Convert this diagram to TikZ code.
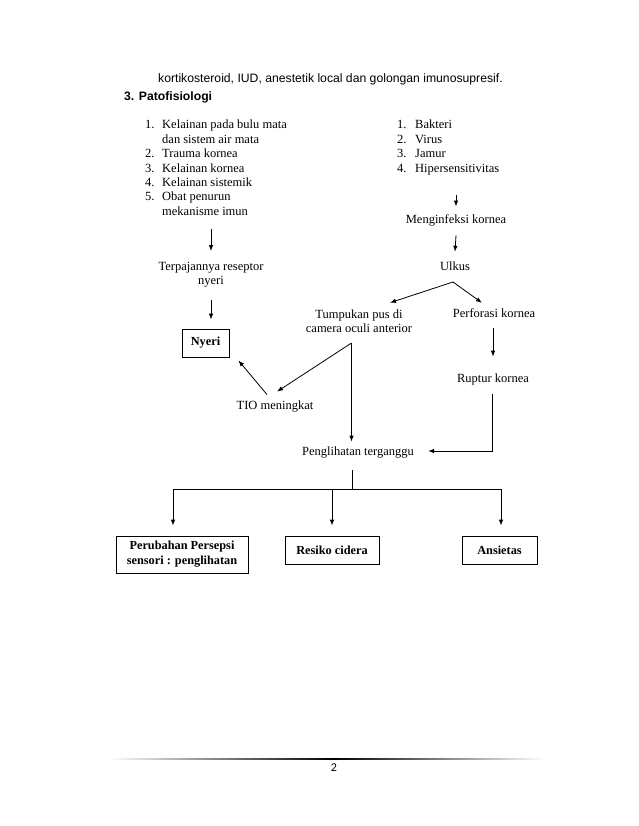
\documentclass[tikz,border=0pt]{standalone}
\usepackage{fontspec}
\setmainfont{Liberation Serif}
\newfontfamily\arialf{Liberation Sans}
\newfontfamily\calf{Carlito}
\usetikzlibrary{arrows.meta}
\begin{document}
\begin{tikzpicture}[x=1pt,y=-1pt,
  every node/.style={inner sep=0pt, font=\fontsize{12.5}{14.4}\selectfont},
  txt/.style={align=center},
  box/.style={draw, line width=0.8pt, align=center, font=\fontsize{12.3}{15}\selectfont\bfseries},
  arr/.style={line width=0.8pt, -{Latex[length=6pt,width=4.5pt]}},
  ln/.style={line width=0.8pt}]
\useasboundingbox[fill=white] (0,0) rectangle (638,826);
% heading text
\node[anchor=base west, font=\arialf\fontsize{12.2}{14}\selectfont] (h1) at (158,83)
  {kortikosteroid, IUD, anestetik local dan golongan imunosupresif.};
\node[anchor=base west, font=\arialf\fontsize{12.2}{14}\selectfont\bfseries] (h2) at (124,101)
  {3. Patofisiologi};
% lists
\node[anchor=base west] (listL) at (145,129) {\begin{tabular}[t]{@{}p{17pt}@{}l@{}}
1. & Kelainan pada bulu mata\\
   & dan sistem air mata\\
2. & Trauma kornea\\
3. & Kelainan kornea\\
4. & Kelainan sistemik\\
5. & Obat penurun\\
   & mekanisme imun
\end{tabular}};
\node[anchor=base west] (listR) at (397,129) {\begin{tabular}[t]{@{}p{18pt}@{}l@{}}
1. & Bakteri\\
2. & Virus\\
3. & Jamur\\
4. & Hipersensitivitas
\end{tabular}};
% text nodes
\node[txt] (infeksi) at (456,220) {Menginfeksi kornea};
\node[txt] (ulkus) at (455,266) {Ulkus};
\node[txt] (terpajan) at (211,275) {Terpajannya reseptor\\nyeri};
\node[txt] (tumpukan) at (359,321.5) {Tumpukan pus di\\camera oculi anterior};
\node[txt] (perforasi) at (494,313) {Perforasi kornea};
\node[box, minimum width=47pt, minimum height=28pt] (nyeri) at (205.5,343) {Nyeri};
\node[txt] (ruptur) at (493,379) {Ruptur kornea};
\node[txt] (tio) at (275,407) {TIO meningkat};
\node[txt] (lihat) at (358,453) {Penglihatan terganggu};
\node[box, minimum width=132pt, minimum height=37pt] (box1) at (182,554.5) {Perubahan Persepsi\\sensori : penglihatan};
\node[box, minimum width=94pt, minimum height=28pt] (box2) at (332,550) {Resiko cidera};
\node[box, minimum width=75pt, minimum height=28pt] (box3) at (499.5,550) {Ansietas};
\node[font=\calf\fontsize{12}{14}\selectfont] (pg) at (334,768) {2};
% footer rule
\shade[left color=white, right color=black] (108,758.6) rectangle (334,759.6);
\shade[left color=black, right color=white] (334,758.6) rectangle (545,759.6);
% connectors
\coordinate (tp) at (351.5,343);
\coordinate (us) at (453,282);
\coordinate (bus) at (352,489);
\draw[arr] ([yshift=-9pt]listL.south -| terpajan.north) -- ([yshift=11pt]terpajan.north);
\draw[arr] ([yshift=-18pt]listR.south -| infeksi.north) -- ([yshift=7.5pt]infeksi.north);
\draw[arr] ([yshift=-9.5pt]infeksi.south) -- ([yshift=9.7pt]ulkus.north);
\draw[ln] ([yshift=-11.7pt]ulkus.south -| us) -- (us);
\draw[arr] (us) -- ([xshift=31pt,yshift=7pt]tumpukan.north);
\draw[arr] (us) -- ([xshift=-12pt,yshift=5.5pt]perforasi.north);
\draw[arr] ([yshift=-12pt]terpajan.south -| terpajan.north) -- ([yshift=9pt]nyeri.north -| terpajan.north);
\draw[arr] ([yshift=-10.5pt]perforasi.south -| ruptur.north) -- ([yshift=16.5pt]ruptur.north);
\draw[arr] (tp) -- ([xshift=2pt,yshift=9.5pt]tio.north);
\draw[arr] (tp) -- ([yshift=5.5pt]lihat.north -| tp);
\draw[arr] ([xshift=-8pt,yshift=6.5pt]tio.north) -- ([xshift=9pt,yshift=-3pt]nyeri.south east);
\draw[arr] ([xshift=-1pt,yshift=-9pt]ruptur.south) |- ([xshift=14pt,yshift=2pt]lihat.east);
\draw[ln] ([yshift=-11.5pt]lihat.south -| bus) -- (bus);
\draw[ln] ([xshift=-9pt]box1.north |- bus) -- ([xshift=1.5pt]box3.north |- bus);
\draw[arr, shorten >=10pt] ([xshift=-9pt]box1.north |- bus) -- ([xshift=-9pt]box1.north);
\draw[arr, shorten >=10pt] (box2.north |- bus) -- (box2.north);
\draw[arr, shorten >=10pt] ([xshift=1.5pt]box3.north |- bus) -- ([xshift=1.5pt]box3.north);
\end{tikzpicture}
\end{document}
